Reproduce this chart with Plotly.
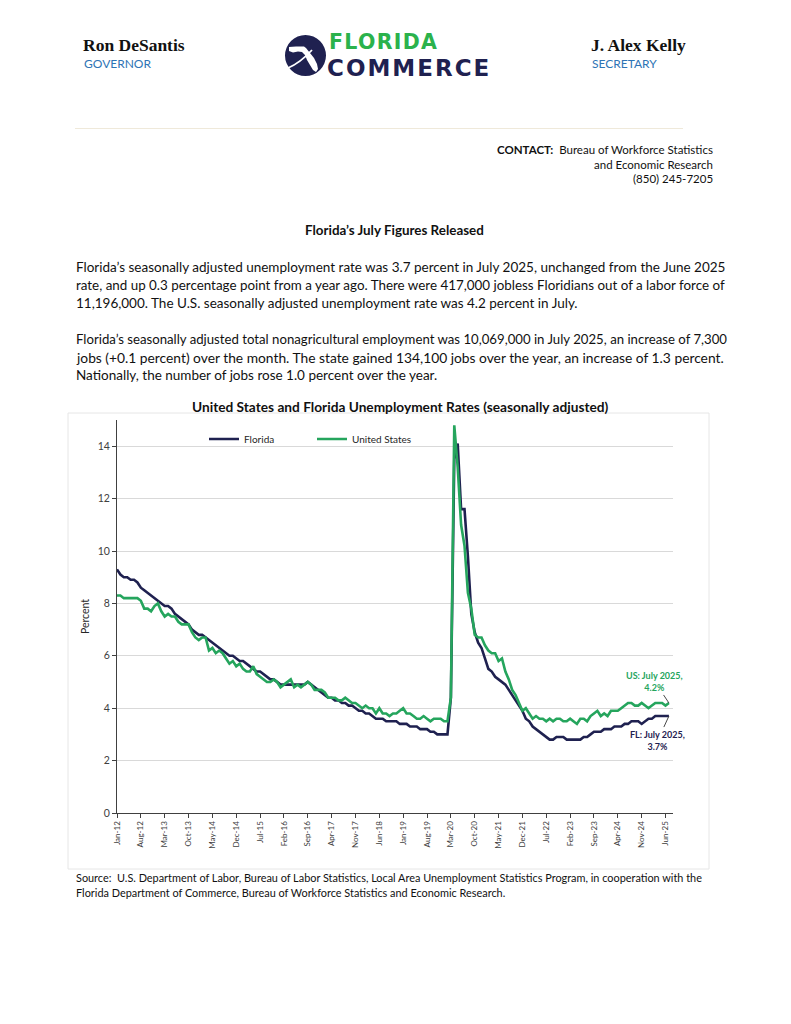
import plotly.graph_objects as go
import pandas as pd

# ---------------- data ----------------
months = pd.date_range("2012-01-01", "2025-07-01", freq="MS").strftime("%b-%y").tolist()

fl_2012 = [9.3, 9.1, 9.0, 9.0, 8.9, 8.9, 8.8, 8.6, 8.5, 8.4, 8.3, 8.2]
fl_2013 = [8.1, 8.0, 7.9, 7.9, 7.8, 7.6, 7.5, 7.4, 7.3, 7.2, 7.0, 6.9]
fl_2014 = [6.8, 6.8, 6.7, 6.6, 6.5, 6.4, 6.3, 6.2, 6.1, 6.0, 6.0, 5.9]
fl_2015 = [5.8, 5.8, 5.7, 5.6, 5.5, 5.4, 5.4, 5.3, 5.2, 5.1, 5.1, 5.0]
fl_2016 = [4.9, 4.9, 4.9, 4.9, 4.9, 4.9, 4.9, 4.9, 5.0, 4.9, 4.8, 4.7]
fl_2017 = [4.6, 4.5, 4.4, 4.4, 4.3, 4.3, 4.2, 4.2, 4.1, 4.1, 4.0, 3.9]
fl_2018 = [3.9, 3.8, 3.8, 3.7, 3.6, 3.6, 3.6, 3.5, 3.5, 3.5, 3.5, 3.4]
fl_2019 = [3.4, 3.4, 3.3, 3.3, 3.3, 3.2, 3.2, 3.2, 3.1, 3.1, 3.0, 3.0]
fl_2020 = [3.0, 3.0, 4.4, 13.5, 14.1, 11.6, 11.6, 9.8, 7.6, 6.9, 6.5, 6.3]
fl_2021 = [5.9, 5.5, 5.4, 5.2, 5.1, 5.0, 4.9, 4.7, 4.5, 4.3, 4.1, 3.9]
fl_2022 = [3.6, 3.5, 3.3, 3.2, 3.1, 3.0, 2.9, 2.8, 2.8, 2.9, 2.9, 2.9]
fl_2023 = [2.8, 2.8, 2.8, 2.8, 2.8, 2.9, 2.9, 3.0, 3.1, 3.1, 3.1, 3.2]
fl_2024 = [3.2, 3.2, 3.3, 3.3, 3.3, 3.4, 3.4, 3.5, 3.5, 3.5, 3.4, 3.5]
fl_2025 = [3.6, 3.6, 3.7, 3.7, 3.7, 3.7, 3.7]

us_2012 = [8.3, 8.3, 8.2, 8.2, 8.2, 8.2, 8.2, 8.1, 7.8, 7.8, 7.7, 7.9]
us_2013 = [8.0, 7.7, 7.5, 7.6, 7.5, 7.5, 7.3, 7.2, 7.2, 7.2, 6.9, 6.7]
us_2014 = [6.6, 6.7, 6.7, 6.2, 6.3, 6.1, 6.2, 6.1, 5.9, 5.7, 5.8, 5.6]
us_2015 = [5.7, 5.5, 5.4, 5.4, 5.6, 5.3, 5.2, 5.1, 5.0, 5.0, 5.1, 5.0]
us_2016 = [4.8, 4.9, 5.0, 5.1, 4.8, 4.9, 4.8, 4.9, 5.0, 4.9, 4.7, 4.7]
us_2017 = [4.7, 4.6, 4.4, 4.4, 4.4, 4.3, 4.3, 4.4, 4.3, 4.2, 4.2, 4.1]
us_2018 = [4.0, 4.1, 4.0, 4.0, 3.8, 4.0, 3.8, 3.8, 3.7, 3.8, 3.8, 3.9]
us_2019 = [4.0, 3.8, 3.8, 3.7, 3.6, 3.6, 3.7, 3.6, 3.5, 3.6, 3.6, 3.6]
us_2020 = [3.5, 3.5, 4.4, 14.8, 13.2, 11.0, 10.2, 8.4, 7.8, 6.8, 6.7, 6.7]
us_2021 = [6.4, 6.2, 6.1, 6.1, 5.8, 5.9, 5.4, 5.1, 4.7, 4.5, 4.2, 3.9]
us_2022 = [4.0, 3.8, 3.6, 3.7, 3.6, 3.6, 3.5, 3.6, 3.5, 3.6, 3.6, 3.5]
us_2023 = [3.5, 3.6, 3.5, 3.4, 3.6, 3.6, 3.5, 3.7, 3.8, 3.9, 3.7, 3.8]
us_2024 = [3.7, 3.9, 3.9, 3.9, 4.0, 4.1, 4.2, 4.2, 4.1, 4.1, 4.2, 4.1]
us_2025 = [4.0, 4.1, 4.2, 4.2, 4.2, 4.1, 4.2]

florida = (fl_2012 + fl_2013 + fl_2014 + fl_2015 + fl_2016 + fl_2017 + fl_2018
           + fl_2019 + fl_2020 + fl_2021 + fl_2022 + fl_2023 + fl_2024 + fl_2025)
united_states = (us_2012 + us_2013 + us_2014 + us_2015 + us_2016 + us_2017 + us_2018
                 + us_2019 + us_2020 + us_2021 + us_2022 + us_2023 + us_2024 + us_2025)

tick_labels = months[::7]
y_ticks = [0, 2, 4, 6, 8, 10, 12, 14]

fl_label = "FL: July 2025,<br>3.7%"
us_label = "US: July 2025,<br>4.2%"

para1 = [
    "Florida’s seasonally adjusted unemployment rate was 3.7 percent in July 2025, unchanged from the June 2025",
    "rate, and up 0.3 percentage point from a year ago. There were 417,000 jobless Floridians out of a labor force of",
    "11,196,000. The U.S. seasonally adjusted unemployment rate was 4.2 percent in July.",
]
para2 = [
    "Florida’s seasonally adjusted total nonagricultural employment was 10,069,000 in July 2025, an increase of 7,300",
    "jobs (+0.1 percent) over the month. The state gained 134,100 jobs over the year, an increase of 1.3 percent.",
    "Nationally, the number of jobs rose 1.0 percent over the year.",
]
source_lines = [
    "Source:  U.S. Department of Labor, Bureau of Labor Statistics, Local Area Unemployment Statistics Program, in cooperation with the",
    "Florida Department of Commerce, Bureau of Workforce Statistics and Economic Research.",
]

# ---------------- styling ----------------
NAVY = "#1f2150"
GREEN = "#25a55d"
LOGO_GREEN = "#2bb24c"
BODY = "Lato, 'Open Sans', sans-serif"
W, H = 791, 1024
L, R, T, B = 117, 673, 420, 813


def X(px):
    return (px - L) / (R - L)


def Y(py):
    return (B - py) / (B - T)


fig = go.Figure()
fig.add_trace(go.Scatter(x=months, y=florida, mode="lines", name="Florida",
                         line=dict(color=NAVY, width=2.6)))
fig.add_trace(go.Scatter(x=months, y=united_states, mode="lines", name="United States",
                         line=dict(color=GREEN, width=2.6)))

annotations = []


def ann(text, px, py, size, color="#111111", xanchor="left", family=BODY, weight=None,
        align="left"):
    f = dict(size=size, color=color, family=family)
    if weight:
        f["weight"] = weight
    annotations.append(dict(text=text, x=X(px), y=Y(py), xref="paper", yref="paper",
                            xanchor=xanchor, yanchor="middle", showarrow=False, font=f,
                            align=align))


# header
ann("<b>Ron DeSantis</b>", 81, 45, 17.5, "#111111", family="'Liberation Serif', serif")
ann("GOVERNOR", 82, 63, 12, "#2e74b5")
ann("<b>J. Alex Kelly</b>", 589, 45, 17.5, "#111111", family="'Liberation Serif', serif")
ann("SECRETARY", 590, 63, 12, "#2e74b5")
# logo wordmark
ann("<span style='letter-spacing:1.3px'><b>FLORIDA</b></span>", 327, 41.5, 20.5, LOGO_GREEN,
    family="'DejaVu Sans', sans-serif")
ann("<span style='letter-spacing:2px'><b>COMMERCE</b></span>", 325, 67.5, 23, NAVY,
    family="'DejaVu Sans', sans-serif")

# contact block
ann("<b>CONTACT:</b>  Bureau of Workforce Statistics", 715, 149, 11.5, xanchor="right")
ann("and Economic Research", 715, 164, 11.5, xanchor="right")
ann("(850) 245-7205", 715, 179, 11.5, xanchor="right")

# release title and body
ann("<b>Florida’s July Figures Released</b>", 394, 230, 13.4, xanchor="center")
para1_sizes = [13.5, 13.4, 13.5]
para2_sizes = [13.2, 13.8, 13.5]
for i, line in enumerate(para1):
    ann(line, 74, 267 + 18 * i, para1_sizes[i])
for i, line in enumerate(para2):
    ann(line, 74, 339 + 18 * i, para2_sizes[i])

# chart title
ann("<b>United States and Florida Unemployment Rates (seasonally adjusted)</b>", 400, 406, 13.7,
    xanchor="center")

# source
for i, line in enumerate(source_lines):
    ann(line, 74, 877 + 15 * i, 10.9)

# data callouts
annotations.append(dict(text="<b>" + us_label + "</b>", x=months[-1], y=united_states[-1],
                        xref="x", yref="y", showarrow=True, arrowhead=0, arrowwidth=0.9,
                        arrowcolor="#333333", ax=-14, ay=-21, standoff=0,
                        font=dict(size=9, color=GREEN, family=BODY), align="center"))
annotations.append(dict(text="<b>" + fl_label + "</b>", x=months[-1], y=florida[-1],
                        xref="x", yref="y", showarrow=True, arrowhead=0, arrowwidth=0.9,
                        arrowcolor="#333333", ax=-11, ay=24, standoff=0,
                        font=dict(size=9, color=NAVY, family=BODY), align="center"))


def path(points):
    return "M " + " L ".join(f"{X(a):.5f},{Y(b):.5f}" for a, b in points) + " Z"


shapes = [
    # header rule
    dict(type="line", xref="paper", yref="paper", x0=X(75), x1=X(683), y0=Y(128.5), y1=Y(128.5),
         line=dict(color="#efe9da", width=1.2)),
    # chart frame
    dict(type="rect", xref="paper", yref="paper", x0=X(68), x1=X(709), y0=Y(413), y1=Y(869),
         line=dict(color="#e6e6e6", width=1), layer="below"),
    # logo disc
    dict(type="circle", xref="paper", yref="paper", x0=X(285), x1=X(326), y0=Y(76), y1=Y(35),
         fillcolor=NAVY, line=dict(color=NAVY, width=0)),
    # Florida silhouette
    dict(type="path", xref="paper", yref="paper",
         path=path([(289, 47), (296, 46.5), (304, 46.5), (306, 48), (310, 53), (314, 58),
                    (317, 64), (318, 69), (316, 72), (313, 70), (310, 65), (307, 60),
                    (305, 55), (302, 52), (298, 51.5), (293, 52.5), (289, 51)]),
         fillcolor="white", line=dict(width=0)),
    # swoosh
    dict(type="path", xref="paper", yref="paper",
         path=f"M {X(288):.5f},{Y(68):.5f} Q {X(300):.5f},{Y(63):.5f} {X(312):.5f},{Y(50):.5f}",
         line=dict(color="white", width=1.8)),
]

fig.update_layout(
    width=W, height=H,
    margin=dict(l=L, r=W - R, t=T, b=H - B, pad=0),
    paper_bgcolor="white", plot_bgcolor="white",
    font=dict(family=BODY, color="#404040"),
    showlegend=True,
    legend=dict(orientation="h", x=X(204), y=Y(439), xanchor="left", yanchor="middle",
                font=dict(size=10, color="#262626", family=BODY),
                bgcolor="rgba(0,0,0,0)", entrywidth=63, entrywidthmode="pixels",
                itemwidth=30, tracegroupgap=0),
    xaxis=dict(type="category", range=[0, 163.2], tickmode="array", tickvals=tick_labels,
               ticktext=tick_labels, tickangle=-90, tickfont=dict(size=8, color="#404040"),
               ticks="outside", ticklen=4, tickcolor="#404040", showline=True,
               linecolor="#404040", linewidth=1, showgrid=False, zeroline=False),
    yaxis=dict(range=[0, 15], tickmode="array", tickvals=y_ticks,
               tickfont=dict(size=10.5, color="#404040"),
               ticks="outside", ticklen=4, tickcolor="#404040", showline=True, linecolor="#404040",
               linewidth=1, showgrid=True, gridcolor="#d9d9d9", gridwidth=1, zeroline=False,
               title=dict(text="Percent", font=dict(size=10.5, color="#262626"), standoff=6)),
    annotations=annotations,
    shapes=shapes,
)

fig.write_html("out.html", config={"displayModeBar": False},
               post_script="document.body.style.margin='0';")
